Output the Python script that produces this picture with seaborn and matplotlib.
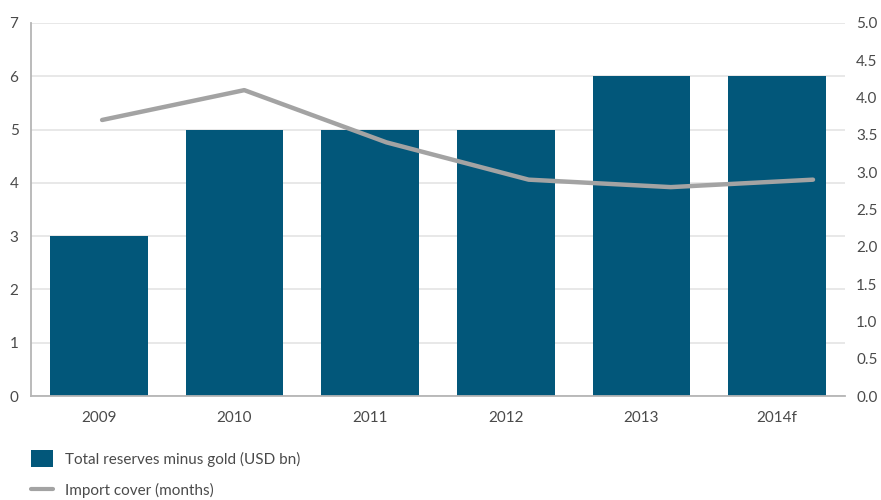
import matplotlib
matplotlib.use("Agg")
import matplotlib.pyplot as plt
import seaborn as sns
import pandas as pd
from matplotlib.patches import Patch
from matplotlib.lines import Line2D

# Data
years = ["2009", "2010", "2011", "2012", "2013", "2014f"]
reserves = [3, 5, 5, 5, 6, 6]            # USD bn
import_cover = [3.7, 4.1, 3.4, 2.9, 2.8, 2.9]  # months

BAR_COLOR = "#02577a"
LINE_COLOR = "#a3a3a3"
TEXT_COLOR = "#4a4a4a"
GRID_COLOR = "#e4e4e4"
SPINE_COLOR = "#b5b5b5"

sns.set_theme(style="white")
plt.rcParams["font.family"] = ["Lato", "DejaVu Sans"]

df = pd.DataFrame({"year": years, "reserves": reserves, "cover": import_cover,
                   "pos": range(len(years))})

fig = plt.figure(figsize=(8.81, 5.0), dpi=100)
rect = [31 / 881, 1 - 396 / 500, (845 - 31) / 881, (396 - 23) / 500]
ax = fig.add_axes(rect)

sns.barplot(data=df, x="year", y="reserves", color=BAR_COLOR, width=0.72,
            saturation=1, linewidth=0, ax=ax, zorder=2)
ax.set_xlim(-0.5, 5.5)
ax.set_ylim(0, 7)
ax.set_yticks(range(0, 8))
ax.yaxis.grid(True, color=GRID_COLOR, linewidth=1.2, zorder=0)
ax.set_axisbelow(True)
ax.set_xlabel("")
ax.set_ylabel("")
ax.tick_params(axis="both", length=0, labelsize=11, colors=TEXT_COLOR)
ax.tick_params(axis="x", pad=11)
ax.tick_params(axis="y", pad=9)
for side in ["top", "right"]:
    ax.spines[side].set_visible(False)
for side in ["left", "bottom"]:
    ax.spines[side].set_color(SPINE_COLOR)
    ax.spines[side].set_linewidth(1.3)

# Import cover line on its own overlaid axes with a right-hand scale
ax2 = fig.add_axes(rect, frameon=False)
sns.lineplot(data=df, x="pos", y="cover", color=LINE_COLOR, linewidth=3.2,
             ax=ax2, zorder=3)
ax2.set_xlim(-0.5, 5.225)
ax2.set_ylim(0, 5)
ax2.set_yticks([i * 0.5 for i in range(11)])
ax2.set_yticklabels([f"{i * 0.5:.1f}" for i in range(11)])
ax2.yaxis.tick_right()
ax2.xaxis.set_visible(False)
ax2.set_xlabel("")
ax2.set_ylabel("")
ax2.tick_params(axis="y", length=0, labelsize=11, colors=TEXT_COLOR, pad=8)
ax2.spines["right"].set_visible(True)
ax2.spines["right"].set_color(SPINE_COLOR)
ax2.spines["right"].set_linewidth(1.3)
ax2.grid(False)

handles = [
    Patch(facecolor=BAR_COLOR, edgecolor="none"),
    Line2D([0], [0], color=LINE_COLOR, linewidth=3),
]
labels = ["Total reserves minus gold (USD bn)", "Import cover (months)"]
fig.legend(handles, labels, loc="upper left", bbox_to_anchor=(0.035, 0.1),
           frameon=False, fontsize=11, labelcolor=TEXT_COLOR,
           handlelength=1.45, handleheight=1.35, handletextpad=0.8,
           labelspacing=0.95, borderaxespad=0, borderpad=0)

fig.savefig("out.png", dpi=100)
